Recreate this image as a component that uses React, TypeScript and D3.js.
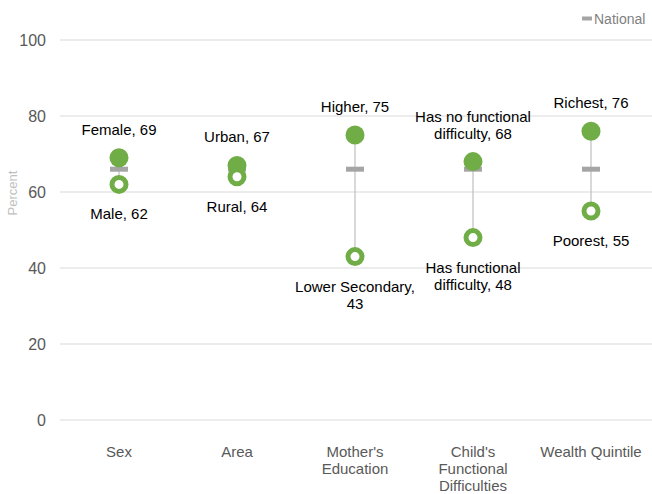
import React, { useEffect, useRef } from "react";
import * as d3 from "d3";

const categories = ["Sex", "Area", "Mother's Education", "Child's Functional Difficulties", "Wealth Quintile"];
const categoryLines = [["Sex"], ["Area"], ["Mother's", "Education"], ["Child's", "Functional", "Difficulties"], ["Wealth Quintile"]];
const highValues = [69, 67, 75, 68, 76];
const lowValues = [62, 64, 43, 48, 55];
const nationalValues = [66, 66, 66, 66, 66];
const highLabels = [["Female, 69"], ["Urban, 67"], ["Higher, 75"], ["Has no functional", "difficulty, 68"], ["Richest, 76"]];
const lowLabels = [["Male, 62"], ["Rural, 64"], ["Lower Secondary,", "43"], ["Has functional", "difficulty, 48"], ["Poorest, 55"]];
const yTicks = [0, 20, 40, 60, 80, 100];

const App: React.FC = () => {
  const svgRef = useRef<SVGSVGElement | null>(null);
  const width = 652;
  const height = 494;

  useEffect(() => {
    const svg = d3.select(svgRef.current);
    svg.selectAll("*").remove();

    const font = "'Liberation Sans', Arial, sans-serif";
    const green = "#70AD47";

    const scaleX = d3.scaleBand().domain(categories).range([60, 650]);
    const scaleY = d3.scaleLinear().domain([0, 100]).range([420, 40]);
    const cx = (c: string) => (scaleX(c) as number) + scaleX.bandwidth() / 2;

    // grid
    svg
      .append("g")
      .selectAll("line")
      .data(yTicks)
      .enter()
      .append("line")
      .attr("x1", 60)
      .attr("x2", 652)
      .attr("y1", d => scaleY(d))
      .attr("y2", d => scaleY(d))
      .attr("stroke", "#D9D9D9")
      .attr("stroke-width", 1);

    svg
      .append("g")
      .selectAll("text")
      .data(yTicks)
      .enter()
      .append("text")
      .attr("x", 46)
      .attr("y", d => scaleY(d))
      .attr("dy", "0.35em")
      .attr("text-anchor", "end")
      .attr("font-family", font)
      .attr("font-size", 16)
      .attr("fill", "#595959")
      .text(d => d);

    svg
      .append("text")
      .attr("transform", "translate(17, 193) rotate(-90)")
      .attr("text-anchor", "middle")
      .attr("font-family", font)
      .attr("font-size", 13)
      .attr("fill", "#BFBFBF")
      .text("Percent");

    // category labels
    categories.forEach((c, i) => {
      const t = svg
        .append("text")
        .attr("text-anchor", "middle")
        .attr("font-family", font)
        .attr("font-size", 15)
        .attr("fill", "#595959");
      categoryLines[i].forEach((line, j) => {
        t.append("tspan").attr("x", cx(c)).attr("y", 457 + j * 17).text(line);
      });
    });

    // connectors
    svg
      .append("g")
      .selectAll("line")
      .data(categories)
      .enter()
      .append("line")
      .attr("x1", d => cx(d))
      .attr("x2", d => cx(d))
      .attr("y1", (d, i) => scaleY(highValues[i]))
      .attr("y2", (d, i) => scaleY(lowValues[i]))
      .attr("stroke", "#BFBFBF")
      .attr("stroke-width", 1.2);

    // national
    svg
      .append("g")
      .selectAll("rect")
      .data(categories)
      .enter()
      .append("rect")
      .attr("x", d => cx(d) - 9)
      .attr("y", (d, i) => scaleY(nationalValues[i]) - 2.5)
      .attr("width", 18)
      .attr("height", 5)
      .attr("fill", "#A5A5A5");

    // high
    svg
      .append("g")
      .selectAll("circle")
      .data(categories)
      .enter()
      .append("circle")
      .attr("cx", d => cx(d))
      .attr("cy", (d, i) => scaleY(highValues[i]))
      .attr("r", 9.5)
      .attr("fill", green);

    // low
    svg
      .append("g")
      .selectAll("circle")
      .data(categories)
      .enter()
      .append("circle")
      .attr("cx", d => cx(d))
      .attr("cy", (d, i) => scaleY(lowValues[i]))
      .attr("r", 7)
      .attr("fill", "white")
      .attr("stroke", green)
      .attr("stroke-width", 5);

    // data labels
    categories.forEach((c, i) => {
      const hl = highLabels[i];
      const ht = svg
        .append("text")
        .attr("text-anchor", "middle")
        .attr("font-family", font)
        .attr("font-size", 15)
        .attr("fill", "#000000");
      hl.forEach((line, j) => {
        ht.append("tspan")
          .attr("x", cx(c))
          .attr("y", scaleY(highValues[i]) - 23 - (hl.length - 1 - j) * 17)
          .text(line);
      });
      const lt = svg
        .append("text")
        .attr("text-anchor", "middle")
        .attr("font-family", font)
        .attr("font-size", 15)
        .attr("fill", "#000000");
      lowLabels[i].forEach((line, j) => {
        lt.append("tspan")
          .attr("x", cx(c))
          .attr("y", scaleY(lowValues[i]) + 35 + j * 17)
          .text(line);
      });
    });

    // legend
    svg
      .append("rect")
      .attr("x", 582)
      .attr("y", 16.5)
      .attr("width", 10)
      .attr("height", 4)
      .attr("fill", "#A5A5A5");
    svg
      .append("text")
      .attr("x", 594)
      .attr("y", 19)
      .attr("dy", "0.35em")
      .attr("font-family", font)
      .attr("font-size", 14)
      .attr("fill", "#7F7F7F")
      .text("National");
  }, []);

  return (
    <svg
      ref={svgRef}
      width={width}
      height={height}
      style={{ position: "absolute", left: 0, top: 0, background: "white" }}
    ></svg>
  );
};

export default App;
